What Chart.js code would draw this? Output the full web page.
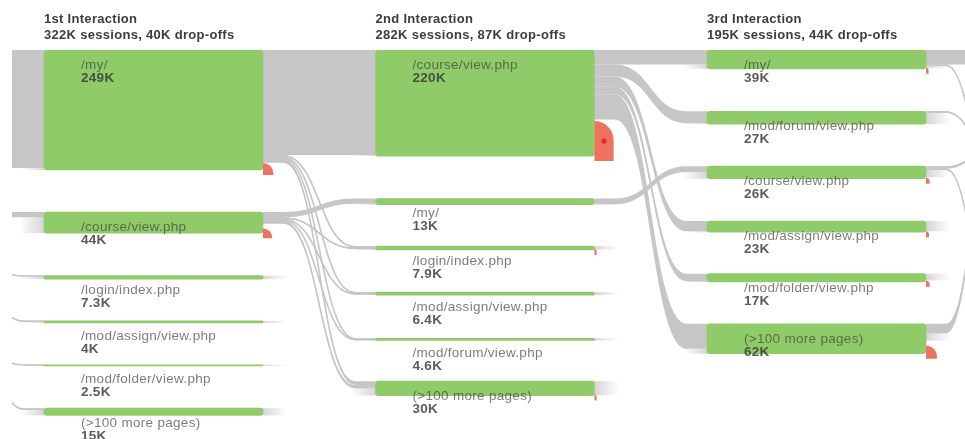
<!DOCTYPE html>
<html>
<head>
<meta charset="utf-8">
<title>Behavior flow</title>
<script src="https://cdn.jsdelivr.net/npm/chart.js@4"></script>
<style>
  html, body { margin: 0; background: #fff; }
  canvas { display: block; }
</style>
</head>
<body>
<canvas id="flowChart" width="965" height="439"></canvas>
<script>
// column headers
const interactions = ['1st Interaction', '2nd Interaction', '3rd Interaction'];
const summaries = ['322K sessions, 40K drop-offs', '282K sessions, 87K drop-offs', '195K sessions, 44K drop-offs'];

// pages per column, values in thousands of sessions
const pages1 = ['/my/', '/course/view.php', '/login/index.php', '/mod/assign/view.php', '/mod/folder/view.php', '(>100 more pages)'];
const pages2 = ['/course/view.php', '/my/', '/login/index.php', '/mod/assign/view.php', '/mod/forum/view.php', '(>100 more pages)'];
const pages3 = ['/my/', '/mod/forum/view.php', '/course/view.php', '/mod/assign/view.php', '/mod/folder/view.php', '(>100 more pages)'];
const valueLabels1 = ['249K', '44K', '7.3K', '4K', '2.5K', '15K'];
const valueLabels2 = ['220K', '13K', '7.9K', '6.4K', '4.6K', '30K'];
const valueLabels3 = ['39K', '27K', '26K', '23K', '17K', '62K'];
const values1 = [249, 44, 7.3, 4, 2.5, 15];
const values2 = [220, 13, 7.9, 6.4, 4.6, 30];
const values3 = [39, 27, 26, 23, 17, 62];

// where each node starts on the session axis
const tops1 = [0, 336, 468, 562, 653, 743];
const tops2 = [0, 308, 407, 502, 598, 687];
const tops3 = [0, 127, 241, 355, 464, 568];

// drop-offs per node
const drops1 = [25, 20, 0, 0, 0, 0];
const drops2 = [83, 0, 1, 0, 0, 1];
const drops3 = [1.5, 0, 3, 2, 3, 27];

// offscreen steps before the first and after the third column
const entryTops = [0, 336, 408, 385, 563, 446];
const exitTops = [0, 633, 347, 141, 942, -400];

// [column, from node, to node, value]
const links = [
  [0, 0, 0, 245], [0, 1, 1, 11], [0, 2, 2, 1.5], [0, 3, 3, 1], [0, 4, 4, 0.8], [0, 5, 5, 4],
  [1, 0, 0, 218], [1, 0, 2, 3], [1, 0, 3, 3], [1, 0, 4, 2], [1, 0, 5, 8],
  [1, 1, 1, 11], [1, 1, 2, 3], [1, 1, 3, 2], [1, 1, 4, 1.5], [1, 1, 5, 7],
  [2, 0, 0, 30], [2, 0, 1, 25], [2, 0, 3, 21], [2, 0, 4, 16], [2, 0, 5, 52],
  [2, 1, 2, 12],
  [3, 0, 0, 30], [3, 0, 1, 3], [3, 1, 2, 3], [3, 2, 3, 5], [3, 2, 4, 3], [3, 5, 5, 20]
];

const allTops = [entryTops, tops1, tops2, tops3, exitTops];
const allValues = [null, values1, values2, values3, null];
const allDrops = [null, drops1, drops2, drops3, null];
const allPages = [null, pages1, pages2, pages3];
const allValueLabels = [null, valueLabels1, valueLabels2, valueLabels3];

const GREEN = '#8fcc69';
const GRAY = '#c6c6c7';
const RED = '#ef7160';
const NODE_WIDTH = 219;

const nodeBars = [];
[1, 2, 3].forEach(col => {
  allTops[col].forEach((top, i) => {
    nodeBars.push({ x: col, y: [top, top + allValues[col][i]] });
  });
});

function sumBy(col, node, side) {
  return links.reduce((s, l) => {
    if (side === 'out' && l[0] === col && l[1] === node) return s + l[3];
    if (side === 'in' && l[0] === col - 1 && l[2] === node) return s + l[3];
    return s;
  }, 0);
}

function fadeStub(ctx, edge, dir, yFrom, yTo) {
  if (yTo - yFrom < 0.3) return;
  const len = 24 * dir;
  const grad = ctx.createLinearGradient(edge, 0, edge + len, 0);
  grad.addColorStop(0, 'rgba(198,198,199,0.75)');
  grad.addColorStop(1, 'rgba(198,198,199,0)');
  ctx.fillStyle = grad;
  ctx.fillRect(Math.min(edge, edge + len), yFrom, Math.abs(len), yTo - yFrom);
}

const flowPlugin = {
  id: 'flows',
  beforeDatasetsDraw(chart) {
    const { ctx, chartArea, scales: { x, y } } = chart;
    ctx.save();
    ctx.beginPath();
    ctx.rect(chartArea.left, 0, chartArea.right - chartArea.left, chart.height);
    ctx.clip();

    const outUsed = {}, inUsed = {};
    links.forEach(([col, from, to, value]) => {
      const outKey = col + ':' + from, inKey = (col + 1) + ':' + to;
      const fromTop = allTops[col][from] + (outUsed[outKey] || 0);
      const toTop = allTops[col + 1][to] + (inUsed[inKey] || 0);
      outUsed[outKey] = (outUsed[outKey] || 0) + value;
      inUsed[inKey] = (inUsed[inKey] || 0) + value;

      const x0 = x.getPixelForValue(col) + NODE_WIDTH / 2;
      const x1 = x.getPixelForValue(col + 1) - NODE_WIDTH / 2;
      const a = x0 + 20, b = x1 - 20, mid = (a + b) / 2;
      const y0a = y.getPixelForValue(fromTop), y0b = y.getPixelForValue(fromTop + value);
      const y1a = y.getPixelForValue(toTop), y1b = y.getPixelForValue(toTop + value);

      ctx.fillStyle = GRAY;
      ctx.beginPath();
      ctx.moveTo(x0, y0a);
      ctx.lineTo(a, y0a);
      ctx.bezierCurveTo(mid, y0a, mid, y1a, b, y1a);
      ctx.lineTo(x1, y1a);
      ctx.lineTo(x1, y1b);
      ctx.lineTo(b, y1b);
      ctx.bezierCurveTo(mid, y1b, mid, y0b, a, y0b);
      ctx.lineTo(x0, y0b);
      ctx.closePath();
      ctx.fill();

      // thin links keep a visible line through the steep part
      if (y0b - y0a < 12) {
        const c0 = (y0a + y0b) / 2, c1 = (y1a + y1b) / 2;
        ctx.strokeStyle = GRAY;
        ctx.lineWidth = 1.6;
        ctx.beginPath();
        ctx.moveTo(x0, c0);
        ctx.lineTo(a, c0);
        ctx.bezierCurveTo(mid, c0, mid, c1, b, c1);
        ctx.lineTo(x1, c1);
        ctx.stroke();
      }
    });

    // whatever is not linked fades out next to the node
    [1, 2, 3].forEach(col => {
      const left = x.getPixelForValue(col) - NODE_WIDTH / 2;
      const right = x.getPixelForValue(col) + NODE_WIDTH / 2;
      allTops[col].forEach((top, i) => {
        const v = allValues[col][i];
        const inSum = sumBy(col, i, 'in');
        const outSum = sumBy(col, i, 'out');
        const bottom = top + v;
        fadeStub(ctx, left, -1, y.getPixelForValue(top + inSum), y.getPixelForValue(bottom));
        const restEnd = bottom - allDrops[col][i];
        fadeStub(ctx, right, 1, y.getPixelForValue(top + outSum), y.getPixelForValue(restEnd));
      });
    });
    ctx.restore();
  },
  afterDatasetsDraw(chart) {
    const { ctx, scales: { x, y } } = chart;
    ctx.save();

    [1, 2, 3].forEach(col => {
      const left = x.getPixelForValue(col) - NODE_WIDTH / 2;
      const right = left + NODE_WIDTH;

      // drop-off tabs
      allTops[col].forEach((top, i) => {
        const d = allDrops[col][i];
        if (!d) return;
        const bottom = y.getPixelForValue(top + allValues[col][i]) + 5;
        const h = Math.max(y.getPixelForValue(d) - y.getPixelForValue(0), 6);
        const w = 2.1 * Math.sqrt(d);
        const r = Math.min(w, h);
        ctx.fillStyle = RED;
        ctx.beginPath();
        ctx.moveTo(right, bottom);
        ctx.lineTo(right, bottom - h);
        ctx.arcTo(right + w, bottom - h, right + w, bottom, r);
        ctx.lineTo(right + w, bottom);
        ctx.closePath();
        ctx.fill();

        // the big tab carries a small exit mark
        if (h > 30) {
          ctx.fillStyle = '#e8262a';
          ctx.beginPath();
          ctx.arc(right + w / 2, bottom - h / 2, 2.6, 0, Math.PI * 2);
          ctx.fill();
        }
      });

      // headers
      ctx.textBaseline = 'middle';
      ctx.textAlign = 'left';
      ctx.letterSpacing = '0.3px';
      ctx.font = 'bold 13px "Liberation Sans", Arial, sans-serif';
      ctx.fillStyle = '#3d3d3d';
      ctx.fillText(interactions[col - 1], left, 19);
      ctx.fillText(summaries[col - 1], left, 35.5);

      // page names and values
      ctx.letterSpacing = '0.3px';
      allTops[col].forEach((top, i) => {
        const yTop = y.getPixelForValue(top);
        ctx.font = '13.5px "Liberation Sans", Arial, sans-serif';
        ctx.fillStyle = 'rgba(60,60,60,0.68)';
        ctx.fillText(allPages[col][i], left + 37, yTop + 15);
        ctx.font = 'bold 13.5px "Liberation Sans", Arial, sans-serif';
        ctx.fillStyle = 'rgba(50,50,50,0.8)';
        ctx.fillText(allValueLabels[col][i], left + 37, yTop + 28);
      });
    });
    ctx.restore();
  }
};

new Chart(document.getElementById('flowChart').getContext('2d'), {
  type: 'bar',
  data: {
    datasets: [{
      label: 'Sessions',
      data: nodeBars,
      backgroundColor: GREEN,
      borderRadius: 3,
      borderSkipped: false,
      barThickness: NODE_WIDTH
    }]
  },
  options: {
    responsive: false,
    animation: false,
    layout: { padding: { left: 12, top: 50, right: 0, bottom: 0 } },
    plugins: { legend: { display: false }, tooltip: { enabled: false } },
    scales: {
      x: { type: 'linear', offset: false, min: 0.5732, max: 3.448, display: false },
      y: { reverse: true, min: 0, max: 807, display: false }
    }
  },
  plugins: [flowPlugin]
});
</script>
</body>
</html>
